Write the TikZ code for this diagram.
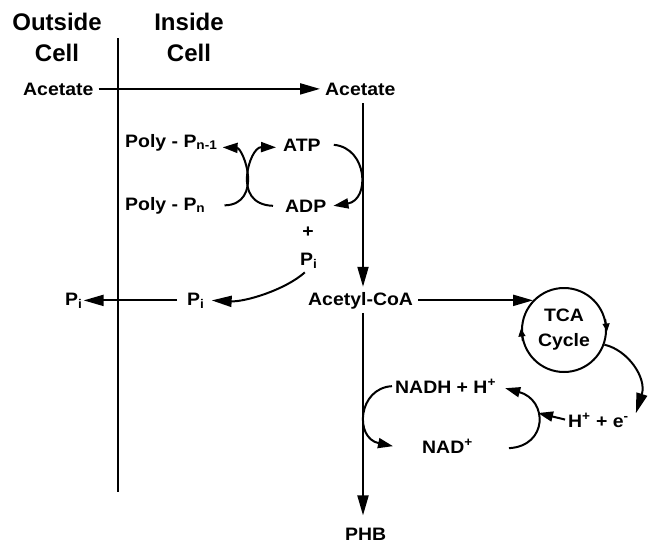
\documentclass[tikz,border=0pt]{standalone}
\usepackage{fontspec}
\setmainfont{Liberation Sans}
\newfontfamily\lblfont[FakeStretch=1.08]{Liberation Sans}
\usetikzlibrary{arrows.meta}
\begin{document}
\begin{tikzpicture}[x=1pt,y=-1pt,
  lbl/.style={font=\lblfont\fontsize{18}{20}\selectfont\bfseries, inner sep=0pt, anchor=base west},
  ttl/.style={font=\fontsize{24}{31}\selectfont\bfseries, align=center, inner sep=0pt, anchor=north},
  conn/.style={line width=2pt},
  arr/.style={conn, -{Triangle[length=20pt,width=11pt]}},
  sarr/.style={conn, -{Triangle[length=15pt,width=10pt]}},
  small/.style={line width=1.2pt, -{Triangle[length=8pt,width=7pt]}}]
\useasboundingbox (0,0) rectangle (652,544);
% titles
\node[ttl] (outTitle) at (57,13) {Outside\\Cell};
\node[ttl] (inTitle) at (189,13) {Inside\\Cell};
% membrane
\coordinate (memTop) at (118,38);
\coordinate (memBot) at (118,492);
\draw[conn] (memTop) -- (memBot);
% labels
\node[lbl] (acetOut) at (23,95) {Acetate};
\node[lbl] (acetIn) at (325,95) {Acetate};
\node[lbl] (polyN1) at (125,147) {Poly - P\textsubscript{n-1}};
\node[lbl] (polyN) at (125,210) {Poly - P\textsubscript{n}};
\node[lbl] (atp) at (283,151) {ATP};
\node[lbl] (adp) at (285,212) {ADP};
\node[lbl, anchor=center] (plus) at (308,232) {+};
\node[lbl] (piIn) at (300,265) {P\textsubscript{i}};
\node[lbl] (piMid) at (187,305) {P\textsubscript{i}};
\node[lbl] (piOut) at (65,305) {P\textsubscript{i}};
\node[lbl] (acoa) at (308,305) {Acetyl-CoA};
\node[draw, circle, conn, minimum size=84pt, inner sep=0pt, align=center,
      font=\lblfont\fontsize{18}{25}\selectfont\bfseries] (tca) at (564,330) {TCA\\Cycle};
\node[lbl] (he) at (568,427) {H\textsuperscript{+} + e\textsuperscript{-}};
\node[lbl] (nadh) at (395,393) {NADH + H\textsuperscript{+}};
\node[lbl] (nad) at (422,453) {NAD\textsuperscript{+}};
\node[lbl] (phb) at (345,540) {PHB};
\coordinate (mainx) at (363,0);
\coordinate (join) at (538,413);
% connectors
\draw[arr, shorten <=5pt, shorten >=5pt] (acetOut.east) -- (acetIn.west);
\draw[arr, shorten <=8pt, shorten >=5pt] (acetIn.south -| mainx) -- (acoa.north -| mainx);
\draw[arr, shorten <=4pt, shorten >=12pt] (acoa.south -| mainx) -- (phb.north -| mainx);
\draw[arr, shorten <=5pt] (acoa.east) -- (acoa.east -| tca.136);
\draw[small] (tca.195) -- (tca.178);
\draw[small] (tca.15) -- (tca.-2);
\draw[arr] (tca.-20) .. controls (628,350) and (647,378) .. ([xshift=7pt]he.north east);
\draw[sarr, shorten <=3pt] (he.west) -- (join);
\draw[sarr] ([xshift=36pt,yshift=-2pt]nad.east) .. controls (548,446) and (548,400) .. ([xshift=9pt,yshift=-2pt]nadh.east);
\draw[sarr] ([xshift=-3pt]nadh.west) .. controls (358,388) and (354,438) .. ([xshift=-29pt]nad.west);
\draw[sarr] ([xshift=13pt]atp.east) .. controls (368,148) and (370,200) .. ([xshift=7pt]adp.east);
\draw[sarr] ([xshift=19pt]polyN.east) .. controls (244,205) and (249,190) .. (248,176)
   .. controls (247,162) and (240,148) .. ([xshift=5pt,yshift=-5pt]polyN1.east);
\draw[sarr] ([xshift=-12pt]adp.west) .. controls (251,205) and (246,190) .. (247,176)
   .. controls (248,162) and (255,147) .. ([xshift=-7pt,yshift=-2.5pt]atp.west);
\draw[arr] ([xshift=-4pt,yshift=-4pt]piIn.south) .. controls (285,290) and (245,302) .. ([xshift=7pt]piMid.east);
\draw[arr, shorten <=10pt, shorten >=1pt] (piMid.west) -- (piOut.east);
\end{tikzpicture}
\end{document}
